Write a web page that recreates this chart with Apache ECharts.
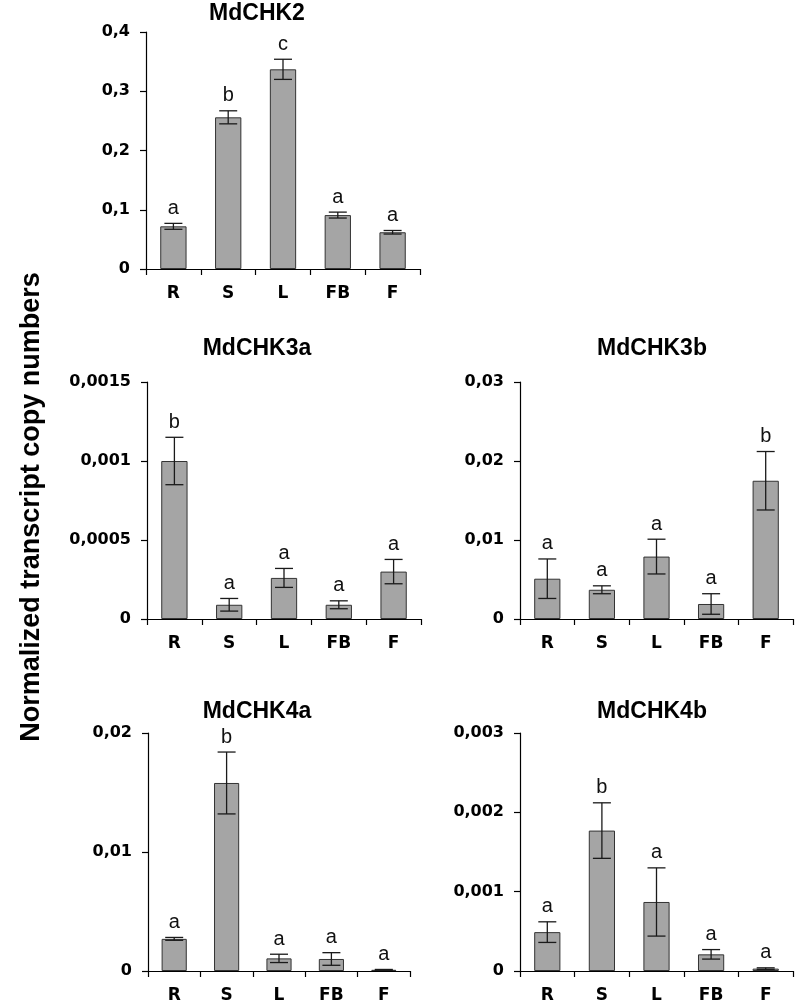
<!DOCTYPE html>
<html><head><meta charset="utf-8">
<script src="https://cdn.jsdelivr.net/npm/echarts@6/dist/echarts.min.js"></script>
<style>html,body{margin:0;padding:0;background:#fff}#c{width:800px;height:1007px}</style>
</head><body><div id="c"></div>
<script>
const categories = ['R', 'S', 'L', 'FB', 'F'];
const titles = ['MdCHK2', 'MdCHK3a', 'MdCHK3b', 'MdCHK4a', 'MdCHK4b'];
const yAxisTitle = 'Normalized transcript copy numbers';

const chk2Means = [0.072, 0.256, 0.337, 0.091, 0.062];
const chk2Errors = [0.005, 0.011, 0.017, 0.005, 0.003];
const chk2Letters = ['a', 'b', 'c', 'a', 'a'];

const chk3aMeans = [0.001, 0.00009, 0.00026, 0.00009, 0.0003];
const chk3aErrors = [0.00015, 0.00004, 0.00006, 0.000025, 0.000077];
const chk3aLetters = ['b', 'a', 'a', 'a', 'a'];

const chk3bMeans = [0.0051, 0.0037, 0.0079, 0.0019, 0.0175];
const chk3bErrors = [0.0025, 0.0005, 0.0022, 0.0013, 0.0037];
const chk3bLetters = ['a', 'a', 'a', 'a', 'b'];

const chk4aMeans = [0.0027, 0.0158, 0.00106, 0.00101, 0.0001];
const chk4aErrors = [0.00012, 0.0026, 0.00035, 0.00053, 0.00003];
const chk4aLetters = ['a', 'b', 'a', 'a', 'a'];

const chk4bMeans = [0.00049, 0.00177, 0.00087, 0.00021, 0.00003];
const chk4bErrors = [0.00013, 0.00035, 0.00043, 0.00006, 0.00001];
const chk4bLetters = ['a', 'b', 'a', 'a', 'a'];

const yMax = [0.4, 0.0015, 0.03, 0.02, 0.003];
const yInterval = [0.1, 0.0005, 0.01, 0.01, 0.001];
const ticks2 = ['0', '0,1', '0,2', '0,3', '0,4'];
const ticks3a = ['0', '0,0005', '0,001', '0,0015'];
const ticks3b = ['0', '0,01', '0,02', '0,03'];
const ticks4a = ['0', '0,01', '0,02'];
const ticks4b = ['0', '0,001', '0,002', '0,003'];

const panels = [
  { means: chk2Means, errs: chk2Errors, letters: chk2Letters, ticks: ticks2 },
  { means: chk3aMeans, errs: chk3aErrors, letters: chk3aLetters, ticks: ticks3a },
  { means: chk3bMeans, errs: chk3bErrors, letters: chk3bLetters, ticks: ticks3b },
  { means: chk4aMeans, errs: chk4aErrors, letters: chk4aLetters, ticks: ticks4a },
  { means: chk4bMeans, errs: chk4bErrors, letters: chk4bLetters, ticks: ticks4b }
];

// layout (pixels)
const gridBoxes = [
  { left: 146, top: 32, width: 274, height: 237 },
  { left: 147, top: 382, width: 274, height: 237 },
  { left: 520, top: 382, width: 273, height: 237 },
  { left: 148, top: 733, width: 262, height: 238 },
  { left: 520, top: 733, width: 273, height: 238 }
];
const titlePos = [[257, 14], [257, 349], [652, 349], [257, 712], [652, 712]];

const tickFont = 'DejaVu Sans';
const textFont = 'Liberation Sans';

const grid = [], xAxis = [], yAxis = [], series = [], graphic = [];
panels.forEach((p, k) => {
  grid.push(Object.assign({ containLabel: false }, gridBoxes[k]));
  xAxis.push({
    type: 'category', gridIndex: k, data: categories, boundaryGap: true,
    axisLine: { lineStyle: { color: '#000', width: 1.2 } },
    axisTick: { show: true, length: 6, inside: false, alignWithLabel: false, lineStyle: { color: '#000', width: 1.2 } },
    axisLabel: { fontFamily: tickFont, fontWeight: 'bold', fontSize: 17, color: '#000', margin: 16 },
    splitLine: { show: false }
  });
  yAxis.push({
    type: 'value', gridIndex: k, min: 0, max: yMax[k], interval: yInterval[k],
    axisLine: { show: true, lineStyle: { color: '#000', width: 1.2 } },
    axisTick: { show: true, length: 6, inside: false, lineStyle: { color: '#000', width: 1.2 } },
    axisLabel: {
      fontFamily: tickFont, fontWeight: 'bold', fontSize: 16, color: '#000', margin: 16,
      formatter: (v, i) => p.ticks[i]
    },
    splitLine: { show: false }
  });
  series.push({
    type: 'bar', xAxisIndex: k, yAxisIndex: k, data: p.means, barWidth: '48%',
    itemStyle: { color: '#a5a5a5', borderColor: '#333', borderWidth: 1 },
    animation: false, silent: true
  });
  series.push({
    type: 'custom', xAxisIndex: k, yAxisIndex: k,
    data: p.means.map((m, i) => [i, m, p.errs[i]]),
    encode: { x: 0, y: 1 },
    z: 5, animation: false, silent: true,
    renderItem: (params, api) => {
      const x = api.value(0), m = api.value(1), e = api.value(2);
      const top = api.coord([x, m + e]);
      const bot = api.coord([x, m - e]);
      const hw = 9;
      const st = { stroke: '#1a1a1a', lineWidth: 1.3 };
      return {
        type: 'group', children: [
          { type: 'line', shape: { x1: top[0], y1: top[1], x2: bot[0], y2: bot[1] }, style: st },
          { type: 'line', shape: { x1: top[0] - hw, y1: top[1], x2: top[0] + hw, y2: top[1] }, style: st },
          { type: 'line', shape: { x1: bot[0] - hw, y1: bot[1], x2: bot[0] + hw, y2: bot[1] }, style: st },
          { type: 'text', style: { text: p.letters[params.dataIndex], x: top[0], y: top[1] - 5, align: 'center', verticalAlign: 'bottom', font: '20px "' + textFont + '"', fill: '#111' } }
        ]
      };
    }
  });
  graphic.push({
    type: 'text', x: titlePos[k][0], y: titlePos[k][1],
    style: { text: titles[k], font: 'bold 23px "' + textFont + '"', fill: '#000', align: 'center', verticalAlign: 'middle' }
  });
});
graphic.push({
  type: 'text', x: 32, y: 507, rotation: Math.PI / 2,
  style: { text: yAxisTitle, font: 'bold 27px "' + textFont + '"', fill: '#000', align: 'center', verticalAlign: 'middle' }
});

const chart = echarts.init(document.getElementById('c'), null, { renderer: 'canvas' });
chart.setOption({ animation: false, backgroundColor: '#fff', grid, xAxis, yAxis, series, graphic });
</script></body></html>
